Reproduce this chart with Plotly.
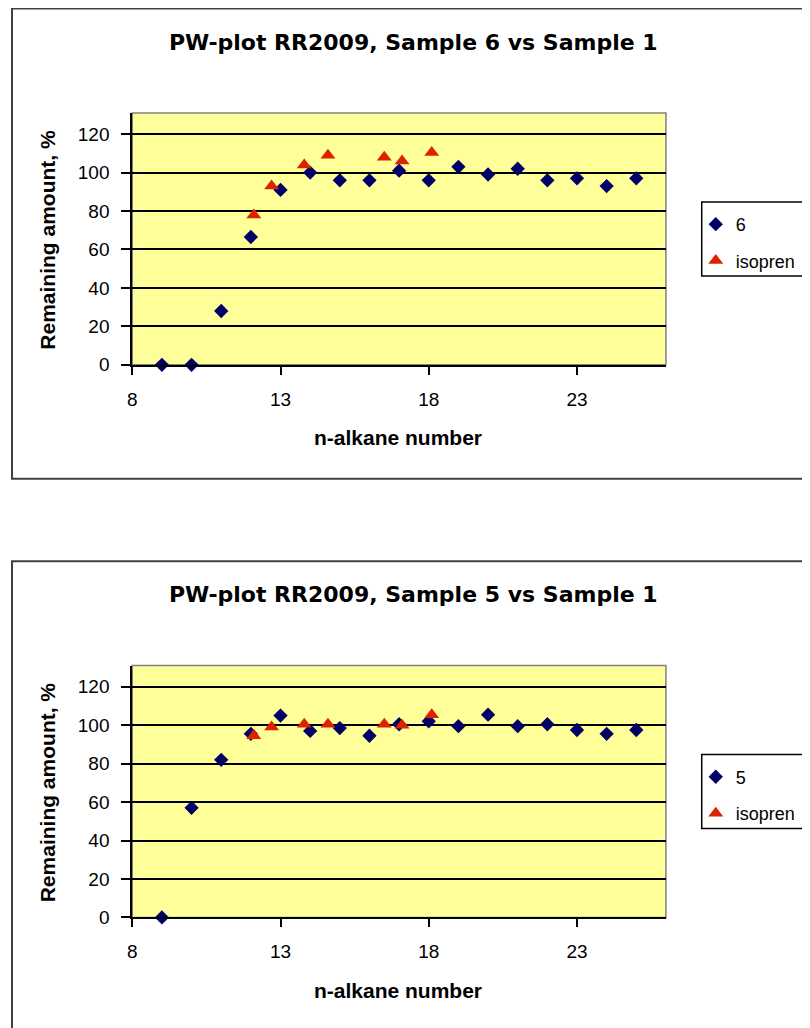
#!/usr/bin/env python3
"""
PW-plot RR2009: remaining amount of n-alkanes and isoprenoids,
Sample 6 vs Sample 1 (top) and Sample 5 vs Sample 1 (bottom)
"""

import plotly.graph_objects as go

# --- data -----------------------------------------------------------------
alkane_number = [9, 10, 11, 12, 13, 14, 15, 16, 17, 18, 19, 20, 21, 22, 23, 24, 25]

sample6_remaining = [0, 0, 28, 66.5, 91, 100, 96, 96, 101, 96, 103, 99, 102, 96, 97, 93, 97]
sample5_remaining = [0, 57, 82, 95.5, 105, 97, 98.5, 94.5, 100.5, 102, 99.5, 105.5, 99.5, 100.5, 97.5, 95.5, 97.5]

isopren_number = [12.1, 12.7, 13.8, 14.6, 16.5, 17.1, 18.1]
isopren6_remaining = [78, 93, 104, 109, 108, 106, 110.5]
isopren5_remaining = [94.5, 99, 100.5, 100.5, 100.5, 100, 105.5]

x_ticks = [8, 13, 18, 23]
y_ticks = [0, 20, 40, 60, 80, 100, 120]

# --- styling --------------------------------------------------------------
W, H = 810, 1028
MARGIN_X = 10            # page offset of the figure (body margin)
MARGIN_Y = 8
Y_SCALE = 0.99           # screenshot squeezes the page a little vertically
NAVY = '#000066'
RED = '#DD2200'
YELLOW = '#FFFF99'
FONT = 'Liberation Sans, Arial, sans-serif'

fig = go.Figure()


def px_x(p):
    # target pixel in the picture -> paper fraction
    return (p - MARGIN_X) / W


def px_y(p):
    return 1 - (p / Y_SCALE - MARGIN_Y) / H


def add_panel(n, offset, sample, values, iso_values):
    """Adds one chart (plot area, axes, title, legend) shifted by offset px"""
    xa = 'x' if n == 1 else f'x{n}'
    ya = 'y' if n == 1 else f'y{n}'
    leg = 'legend' if n == 1 else f'legend{n}'

    fig.add_trace(go.Scatter(
        x=alkane_number, y=values, mode='markers', name=str(sample),
        marker=dict(symbol='diamond', size=11, color=NAVY),
        xaxis=xa, yaxis=ya, legend=leg, legendgroup=f'a{n}',
        cliponaxis=False))
    fig.add_trace(go.Scatter(
        x=isopren_number, y=iso_values, mode='markers', name='isopren',
        marker=dict(symbol='triangle-up', size=13, color=RED),
        xaxis=xa, yaxis=ya, legend=leg, legendgroup=f'b{n}',
        cliponaxis=False))

    top, bottom = 113 + offset, 365 + offset
    axis_font = dict(family=FONT, size=19, color='black')

    fig.layout[f'xaxis{"" if n == 1 else n}'] = dict(
        domain=[px_x(130), px_x(667)], anchor=ya, range=[8, 26],
        tickvals=x_ticks, ticks='outside', ticklen=8, tickcolor='black',
        tickwidth=1.5, showline=True, linecolor='black', linewidth=2,
        showgrid=False, zeroline=False, tickfont=axis_font,
        ticklabelstandoff=8)
    fig.layout[f'yaxis{"" if n == 1 else n}'] = dict(
        domain=[px_y(bottom), px_y(top)], anchor=xa, range=[0, 131],
        tickvals=y_ticks, ticks='outside', ticklen=9, tickcolor='black',
        tickwidth=1.5, showline=True, linecolor='black', linewidth=2,
        showgrid=True, gridcolor='black', gridwidth=2,
        zeroline=False, tickfont=axis_font, ticklabelstandoff=8)

    # grey border of the plot area
    fig.add_shape(type='rect', xref=f'{xa} domain', yref=f'{ya} domain',
                  x0=0, x1=1, y0=0, y1=1, layer='below',
                  line=dict(color='#808080', width=1.5))

    # chart area frame (runs off the right edge, like the original)
    fig.add_shape(type='rect', xref='paper', yref='paper',
                  x0=px_x(9), x1=1.05, y0=px_y(479 + offset), y1=px_y(8.5 + offset),
                  line=dict(color='#404040', width=2))

    # legend frame
    fig.add_shape(type='rect', xref='paper', yref='paper',
                  x0=px_x(703), x1=1.05, y0=px_y(276 + offset), y1=px_y(202 + offset),
                  line=dict(color='black', width=1.5))

    fig.layout[leg] = dict(
        x=px_x(697), y=px_y(206 + offset), xanchor='left', yanchor='top',
        bgcolor='rgba(0,0,0,0)', borderwidth=0, tracegroupgap=10,
        font=dict(family=FONT, size=18, color='black'))

    fig.add_annotation(
        text=f'PW-plot RR2009, Sample {sample} vs Sample 1',
        xref='paper', yref='paper', x=px_x(413), y=px_y(42 + offset),
        xanchor='center', yanchor='middle', showarrow=False,
        font=dict(family='DejaVu Sans', size=22, color='black', weight='bold'))
    fig.add_annotation(
        text='n-alkane number', xref='paper', yref='paper',
        x=px_x(397), y=px_y(438 + offset), xanchor='center', yanchor='middle',
        showarrow=False,
        font=dict(family=FONT, size=21, color='black', weight='bold'))
    fig.add_annotation(
        text='Remaining amount, %', xref='paper', yref='paper',
        x=px_x(45), y=px_y(240 + offset), xanchor='center', yanchor='middle',
        showarrow=False, textangle=-90,
        font=dict(family=FONT, size=21, color='black', weight='bold'))


add_panel(1, 0, 6, sample6_remaining, isopren6_remaining)
add_panel(2, 553, 5, sample5_remaining, isopren5_remaining)

fig.update_layout(
    width=W, height=H,
    margin=dict(l=0, r=0, t=0, b=0),
    paper_bgcolor='white',
    plot_bgcolor=YELLOW,
    showlegend=True,
)

fig.write_html("out.html")
